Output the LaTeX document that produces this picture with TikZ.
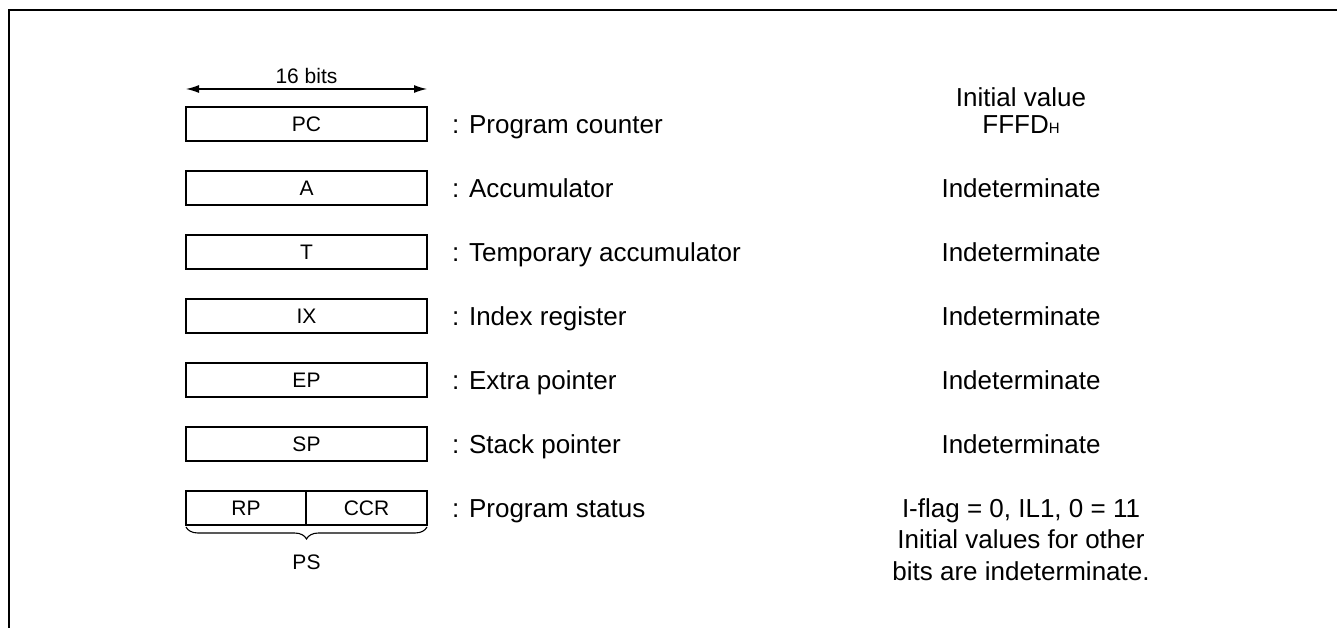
\documentclass[tikz,border=0pt]{standalone}
\usepackage{fontspec}
\setmainfont{Liberation Sans}
\usetikzlibrary{decorations.pathreplacing,arrows.meta}
\begin{document}
\begin{tikzpicture}[x=1pt,y=-1pt,
  reg/.style={draw, line width=1.8pt, minimum height=34pt, inner sep=0pt,
    text height=15pt, text depth=0pt, font=\fontsize{21}{24}\selectfont},
  desc/.style={anchor=west, inner sep=0pt, text height=18.6pt, text depth=0pt,
    font=\fontsize{26}{30}\selectfont},
  val/.style={inner sep=0pt, text height=18.6pt, text depth=0pt,
    font=\fontsize{26}{30}\selectfont},
  small/.style={inner sep=0pt, text height=15pt, text depth=0pt,
    font=\fontsize{21}{24}\selectfont},
  widtharrow/.style={>={Latex[length=13pt,width=8pt]}, <->, line width=1.2pt}]
\useasboundingbox (0,0) rectangle (1337,628);
\draw[line width=2.2pt] (9,640) -- (9,10) -- (1345,10);

% width arrow
\coordinate (aL) at (186,89);
\coordinate (aR) at (427,89);
\draw[widtharrow] (aL) -- (aR);
\node[small] (bits) at (306.5,76) {16 bits};

% registers
\node[reg, minimum width=241pt] (pc) at (306.5,124) {PC};
\node[reg, minimum width=241pt] (a)  at (306.5,188) {A};
\node[reg, minimum width=241pt] (t)  at (306.5,252) {T};
\node[reg, minimum width=241pt] (ix) at (306.5,316) {IX};
\node[reg, minimum width=241pt] (ep) at (306.5,380) {EP};
\node[reg, minimum width=241pt] (sp) at (306.5,444) {SP};
\node[reg, minimum width=120pt] (rp) at (246,508) {RP};
\node[reg, minimum width=121pt] (ccr) at (366.5,508) {CCR};

% brace
\coordinate (bL) at (186,527);
\coordinate (bR) at (427,527);
\draw[line width=1.1pt, decorate, decoration={brace, mirror, amplitude=12pt}] (bL) -- (bR);
\node[small] (ps) at (306.5,562) {PS};

% descriptions
\node[desc] (dpc) at (452,124) {: Program counter};
\node[desc] (da)  at (452,188) {: Accumulator};
\node[desc] (dt)  at (452,252) {: Temporary accumulator};
\node[desc] (dix) at (452,316) {: Index register};
\node[desc] (dep) at (452,380) {: Extra pointer};
\node[desc] (dsp) at (452,444) {: Stack pointer};
\node[desc] (dps) at (452,508) {: Program status};

% initial values
\node[val] (ivh) at (1021,97) {Initial value};
\node[val] (vpc) at (1021,124) {FFFD{\fontsize{15}{15}\selectfont H}};
\node[val] (va)  at (1021,188) {Indeterminate};
\node[val] (vt)  at (1021,252) {Indeterminate};
\node[val] (vix) at (1021,316) {Indeterminate};
\node[val] (vep) at (1021,380) {Indeterminate};
\node[val] (vsp) at (1021,444) {Indeterminate};
\node[val] (vps1) at (1021,508) {I-flag = 0, IL1, 0 = 11};
\node[val] (vps2) at (1021,539.5) {Initial values for other};
\node[val] (vps3) at (1021,571) {bits are indeterminate.};
\end{tikzpicture}
\end{document}
